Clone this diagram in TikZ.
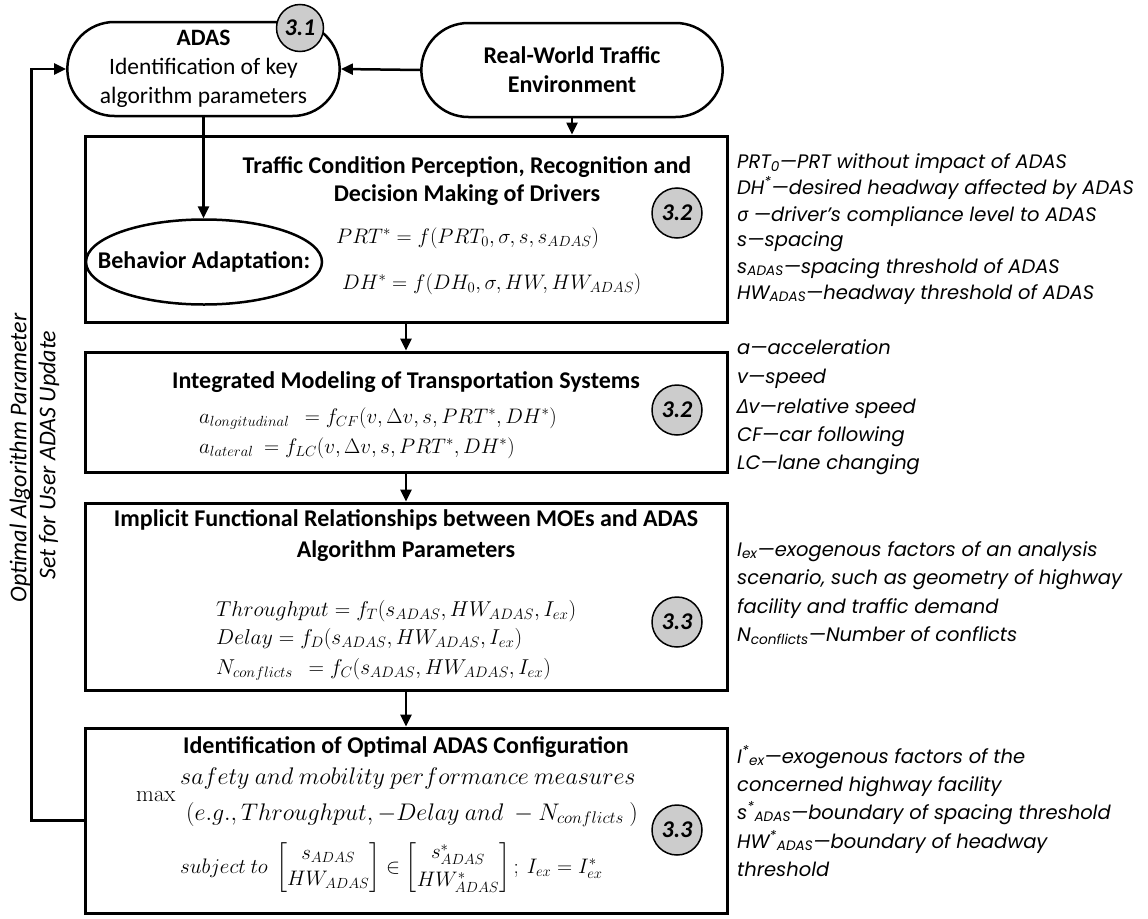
\RequirePackage{fix-cm}
\documentclass[tikz,border=0pt]{standalone}
\usepackage[no-math]{fontspec}
\usepackage{amsmath}
\setmainfont{Carlito}
\newfontfamily\annf{Poppins}
\newfontfamily\grf{Noto Sans}
\usetikzlibrary{arrows.meta,shapes.misc,shapes.geometric}
\newcommand\fsz[2]{\fontsize{#1}{#2}\selectfont}
\newcommand\gk[1]{{\grf\itshape #1}}
\begin{document}
\begin{tikzpicture}[x=1pt,y=-1pt,
  stad/.style={rounded rectangle, draw, line width=2.5pt, align=center},
  bigbox/.style={rectangle, draw, line width=3pt, inner sep=0pt},
  arr/.style={line width=2.5pt, -{Triangle[length=12pt,width=11pt]}},
  badge/.style={circle, draw, line width=1.5pt, fill=black!20, minimum size=50pt, inner sep=0pt, font=\fsz{24}{28}\bfseries\itshape},
  ttl/.style={align=center, font=\fsz{24}{28}\bfseries},
  eq/.style={anchor=base west, inner sep=0pt, font=\fsz{21}{25}},
  eqb/.style={anchor=base west, inner sep=0pt, font=\fsz{24}{28}},
  ann/.style={anchor=base west, inner sep=0pt, font=\annf\itshape\fsz{19.5}{22}},
  rot/.style={rotate=90, font=\fsz{24}{28}\itshape, inner sep=0pt}]
\useasboundingbox (0,0) rectangle (1148,918);
\fill[white] (0,0) rectangle (1148,918);

% top row
\node[stad, minimum width=279pt, minimum height=94pt, font=\fsz{23.5}{29}] (adas) at (203.5,69) {\textbf{ADAS}\\Identification of key\\algorithm parameters};
\node[stad, minimum width=308pt, minimum height=94pt, font=\fsz{24}{29}\bfseries] (rw) at (572,70) {Real-World Traffic\\Environment};
\node[badge, minimum size=47pt] (b31) at (300,28) {3.1};

% boxes
\node[bigbox, minimum width=642pt, minimum height=186pt] (box1) at (406,229) {};
\node[bigbox, minimum width=642pt, minimum height=120pt] (box2) at (406,412) {};
\node[bigbox, minimum width=642pt, minimum height=187pt] (box3) at (406,596.5) {};
\node[bigbox, minimum width=642pt, minimum height=185pt] (box4) at (406,820.5) {};

% box 1
\node[ttl] (t1) at (467,181) {Traffic Condition Perception, Recognition and\\Decision Making of Drivers};
\node[ellipse, draw, line width=2.5pt, minimum width=236pt, minimum height=85pt, inner sep=0pt] (beh) at (204,262) {};
\node[font=\fsz{24}{28}\bfseries, inner sep=0pt] (behT) at (beh.center) {Behavior Adaptation:};
\node[eq] (e11) at (336,243) {$PRT^{*} = f(PRT_{0},\sigma,s,s_{ADAS})$};
\node[eq] (e12) at (342,289) {$DH^{*} = f(DH_{0},\sigma,HW,HW_{ADAS})$};
\node[badge] (b32a) at (677,213) {3.2};

% box 2
\node[ttl] (t2) at (406,382) {Integrated Modeling of Transportation Systems};
\node[eq] (e21) at (199,423) {$a_{longitudinal}\ \ = f_{CF}(v,\Delta v,s,PRT^{*},DH^{*})$};
\node[eq] (e22) at (199,453) {$a_{lateral}\ = f_{LC}(v,\Delta v,s,PRT^{*},DH^{*})$};
\node[badge] (b32b) at (677,410) {3.2};

% box 3
\node[ttl, font=\fsz{24}{31}\bfseries] (t3) at (406,536) {Implicit Functional Relationships between MOEs and ADAS\\Algorithm Parameters};
\node[eq, font=\fsz{21.5}{25}] (e31) at (216,616) {$Throughput = f_{T}(s_{ADAS},HW_{ADAS},I_{ex})$};
\node[eq, font=\fsz{21.5}{25}] (e32) at (216,644) {$Delay = f_{D}(s_{ADAS},HW_{ADAS},I_{ex})$};
\node[eq, font=\fsz{21.5}{25}] (e33) at (216,674) {$N_{conflicts}\ \ = f_{C}(s_{ADAS},HW_{ADAS},I_{ex})$};
\node[badge] (b33a) at (677,622) {3.3};

% box 4
\node[ttl] (t4) at (406,747) {Identification of Optimal ADAS Configuration};
\node[eqb, font=\fsz{23}{27}] (mx) at (136,801) {$\max$};
\node[eqb] (e41) at (180,784) {$safety\ and\ mobility\ performance\ measures$};
\node[eqb] (e42) at (186,820) {$(e.g.,Throughput,-Delay\ and\ -N_{conflicts}\ )$};
\node[eq] (e43) at (180,873) {\setlength\arraycolsep{1pt}$subject\ to\ \begin{bmatrix}s_{ADAS}\\[1pt]HW_{ADAS}\end{bmatrix}\in\begin{bmatrix}s^{*}_{ADAS}\\[3pt]HW^{*}_{ADAS}\end{bmatrix};\ I_{ex}=I^{*}_{ex}$};
\node[badge] (b33b) at (677,830) {3.3};

% connectors
\draw[arr] (rw.west) -- (adas.east);
\draw[arr] (rw.south) -- (rw.south |- box1.north);
\draw[arr] (adas.south) -- (adas.south |- beh.north);
\draw[arr] (box1.south) -- (box2.north);
\draw[arr] (box2.south) -- (box3.north);
\draw[arr] (box3.south) -- (box4.north);
\draw[arr] (box4.west) -- ++(-52,0) |- (adas.west);

% rotated labels
\node[rot] (r1) at (20,458) {Optimal Algorithm Parameter};
\node[rot] (r2) at (49,455) {Set for User ADAS Update};

% annotations group 1
\node[ann] (a11) at (737,168) {PRT\textsubscript{0}—PRT without impact of ADAS};
\node[ann] (a12) at (737,194) {DH\textsuperscript{*}—desired headway affected by ADAS};
\node[ann] (a13) at (737,221) {\gk{σ} —driver’s compliance level to ADAS};
\node[ann] (a14) at (737,246) {s—spacing};
\node[ann] (a15) at (737,273) {s\textsubscript{ADAS}—spacing threshold of ADAS};
\node[ann] (a16) at (737,299) {HW\textsubscript{ADAS}—headway threshold of ADAS};
% group 2
\node[ann] (a21) at (737,354) {a—acceleration};
\node[ann] (a22) at (737,383) {v—speed};
\node[ann] (a23) at (737,413) {\gk{Δ}v—relative speed};
\node[ann] (a24) at (737,441) {CF—car following};
\node[ann] (a25) at (737,469) {LC—lane changing};
% group 3
\node[ann] (a31) at (737,556) {I\textsubscript{ex}—exogenous factors of an analysis};
\node[ann] (a32) at (737,584) {scenario, such as geometry of highway};
\node[ann] (a33) at (737,613) {facility and traffic demand};
\node[ann] (a34) at (737,641) {N\textsubscript{conflicts}—Number of conflicts};
% group 4
\node[ann] (a41) at (737,763) {I\textsuperscript{*}\textsubscript{ex}—exogenous factors of the};
\node[ann] (a42) at (737,791) {concerned highway facility};
\node[ann] (a43) at (737,819) {s\textsuperscript{*}\textsubscript{ADAS}—boundary of spacing threshold};
\node[ann] (a44) at (737,848) {HW\textsuperscript{*}\textsubscript{ADAS}—boundary of headway};
\node[ann] (a45) at (737,876) {threshold};
\end{tikzpicture}
\end{document}
